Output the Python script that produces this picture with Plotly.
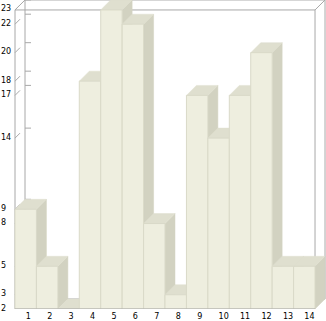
import plotly.graph_objects as go

# ---- data ----
categories = list(range(1, 15))
values = [9, 5, 2, 18, 23, 22, 8, 3, 17, 14, 17, 20, 5, 5]
x_tick_labels = [str(c) for c in categories]
y_tick_values = [2, 3, 5, 8, 9, 14, 17, 18, 20, 22, 23]

# ---- layout constants (pixels) ----
W, H = 326, 321
BASE = 2
TOP = 23
PX_X = 21.43          # pixels per category
PX_Y = 14.24          # pixels per value unit
X0_PX = 15            # pixel position of x = 0.5
BOTTOM_M = 12
DEPTH = 10            # 3D depth in px
dx = DEPTH / PX_X
dy = DEPTH / PX_Y

FRONT = "#EEEEDF"
TOPC = "#DFDFCF"
SIDE = "#D2D2C1"
EDGE = "#D9D9C8"
FRAME = "#A8A8A8"

x_lo = 0.5 - X0_PX / PX_X
x_hi = 0.5 + (W - X0_PX) / PX_X
y_lo = BASE
y_hi = BASE + (H - BOTTOM_M) / PX_Y

fig = go.Figure()


def line(xs, ys, color=FRAME, width=1):
    fig.add_trace(go.Scatter(x=xs, y=ys, mode="lines",
                             line=dict(color=color, width=width),
                             hoverinfo="skip", showlegend=False))


def poly(xs, ys, fill, edge, width=1):
    fig.add_trace(go.Scatter(x=xs + [xs[0]], y=ys + [ys[0]], mode="lines",
                             fill="toself", fillcolor=fill,
                             line=dict(color=edge, width=width),
                             hoverinfo="skip", showlegend=False))


L = categories[0] - 0.5
R = categories[-1] + 0.5

# back wall frame
line([L + dx, L + dx, R + dx, R + dx], [BASE + dy, TOP + dy, TOP + dy, BASE + dy])
line([L + dx, R + dx], [BASE + dy, BASE + dy])
# front frame
line([L, L, R, R], [BASE, TOP, TOP, BASE])
# diagonals
line([L, L + dx], [TOP, TOP + dy])
line([R, R + dx], [TOP, TOP + dy])
line([L, L + dx], [BASE, BASE + dy])

# ticks on back wall and left wall
for t in y_tick_values:
    line([L + dx, L + dx + 0.28], [t + dy, t + dy])
    line([L, L + dx * 0.5], [t, t + dy * 0.5])

# bars (left to right: side, top, front)
for c, v in zip(categories, values):
    l, r = c - 0.5, c + 0.5
    poly([r, r + dx, r + dx, r], [BASE, BASE + dy, v + dy, v], SIDE, SIDE, 0.5)
    poly([l, r, r + dx, l + dx], [v, v, v + dy, v + dy], TOPC, TOPC, 0.5)
    poly([l, r, r, l], [BASE, BASE, v, v], FRONT, EDGE, 1)

# front bottom edge
line([L, R], [BASE, BASE])

# y tick labels, left aligned at the window edge
for t in y_tick_values:
    fig.add_annotation(x=0, xref="paper", y=t, yref="y", text=str(t),
                       showarrow=False, xanchor="left", yanchor="middle",
                       xshift=-1, yshift=1,
                       font=dict(family="DejaVu Sans", size=8, color="black"))

fig.update_layout(
    width=W, height=H,
    margin=dict(l=0, r=0, t=0, b=BOTTOM_M),
    paper_bgcolor="white", plot_bgcolor="white",
    showlegend=False,
    font=dict(family="DejaVu Sans", size=8, color="black"),
    xaxis=dict(range=[x_lo, x_hi], showgrid=False, zeroline=False,
               showline=False, ticks="", tickvals=categories,
               ticktext=x_tick_labels, ticklabelposition="outside right",
               ticklabelstandoff=1,
               tickfont=dict(size=8, color="black")),
    yaxis=dict(range=[y_lo, y_hi], showgrid=False, zeroline=False,
               showline=False, ticks="", showticklabels=False),
)

fig.write_html("out.html")
